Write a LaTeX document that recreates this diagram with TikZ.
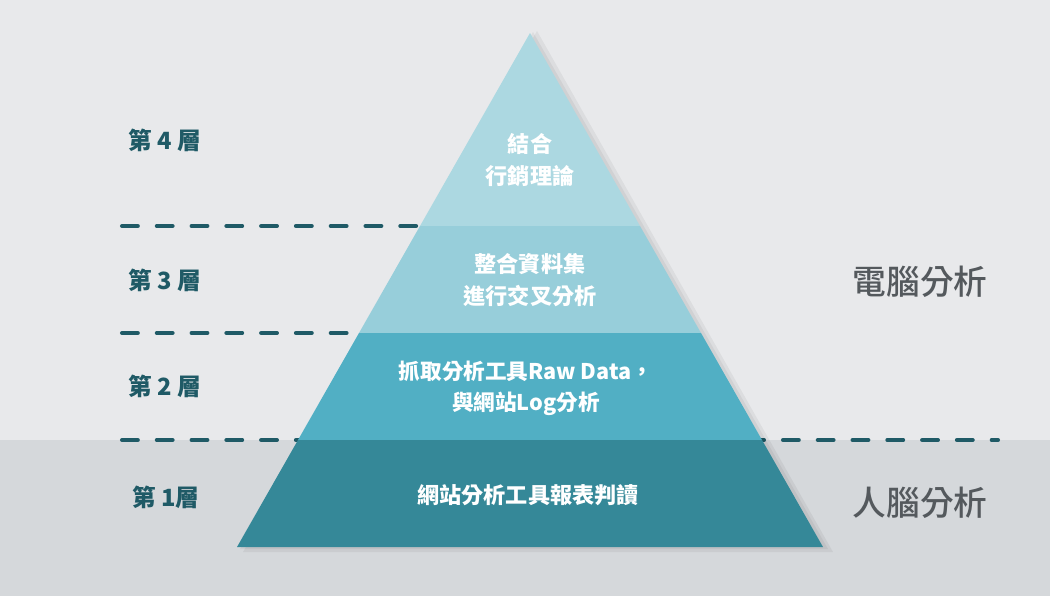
\documentclass[tikz,border=0pt]{standalone}
\usepackage{fontspec}
\setmainfont{Noto Sans CJK TC}
\newfontfamily\sidefont{Noto Sans CJK TC Medium}
\usetikzlibrary{positioning}

\definecolor{bgtop}{HTML}{E8E9EB}
\definecolor{bgbot}{HTML}{D5D8DB}
\definecolor{dashcol}{HTML}{1F5A66}
\definecolor{tierfour}{HTML}{ACD8E1}
\definecolor{tierthree}{HTML}{97CEDA}
\definecolor{tiertwo}{HTML}{51AFC4}
\definecolor{tierone}{HTML}{358898}
\definecolor{sidecol}{HTML}{54595D}

\tikzset{
  levellabel/.style={text=dashcol, font=\fontsize{13.5pt}{16pt}\selectfont\bfseries},
  tiertext/.style={text=white, align=center, font=\fontsize{12.6pt}{18pt}\selectfont\bfseries},
  sidelabel/.style={text=sidecol, font=\fontsize{19.2pt}{22pt}\sidefont},
  levelline/.style={dashcol, line width=2.3pt, line cap=round, dash pattern=on 9pt off 10.8pt}
}

\begin{document}
\begin{tikzpicture}[x=0.02cm, y=-0.02cm]

% Background
\fill[bgtop] (0,0) rectangle (1050,440);
\fill[bgbot] (0,440) rectangle (1050,596);
\useasboundingbox (0,0) rectangle (1050,596);

% Dashed level lines
\coordinate (l3) at (122,226);
\coordinate (l2) at (122,333);
\coordinate (l1) at (122,440);
\draw[levelline] (l3) -- (420,226);
\draw[levelline] (l2) -- (359,333);
\draw[levelline] (l1) -- (998,440);

% Shadow of the pyramid
\fill[black, opacity=0.05] (537,31) -- (833,552) -- (243,552) -- cycle;
\fill[black, opacity=0.05] (533,32) -- (828,549) -- (240,549) -- cycle;

% Pyramid, top to bottom
\coordinate (apex) at (530,33);
\fill[tierfour] (apex) -- (640,226) -- (420,226) -- cycle;
\fill[tierthree] (420,226) -- (640,226) -- (701,333) -- (359,333) -- cycle;
\fill[tiertwo] (359,333) -- (701,333) -- (762,440) -- (298,440) -- cycle;
\fill[tierone] (298,440) -- (762,440) -- (823,547) -- (237,547) -- cycle;

% Texts inside the pyramid
\node[tiertext] (t4) at (530,160) {結合\\行銷理論};
\node[tiertext] (t3) at (530,280) {整合資料集\\進行交叉分析};
\node[tiertext, font=\fontsize{12.3pt}{17.5pt}\selectfont\bfseries] (t2) at (526,388) {抓取分析工具Raw Data，\\與網站Log分析};
\node[tiertext] (t1) at (528,495) {網站分析工具報表判讀};

% Level labels on the left
\node[levellabel] (n4) at (165,140) {第 4 層};
\node[levellabel] (n3) at (165,280) {第 3 層};
\node[levellabel] (n2) at (165,386) {第 2 層};
\node[levellabel] (n1) at (166,497) {第 1層};

% Labels on the right
\node[sidelabel] (pc) at (920,282) {電腦分析};
\node[sidelabel] (human) at (920,503) {人腦分析};

\end{tikzpicture}
\end{document}
